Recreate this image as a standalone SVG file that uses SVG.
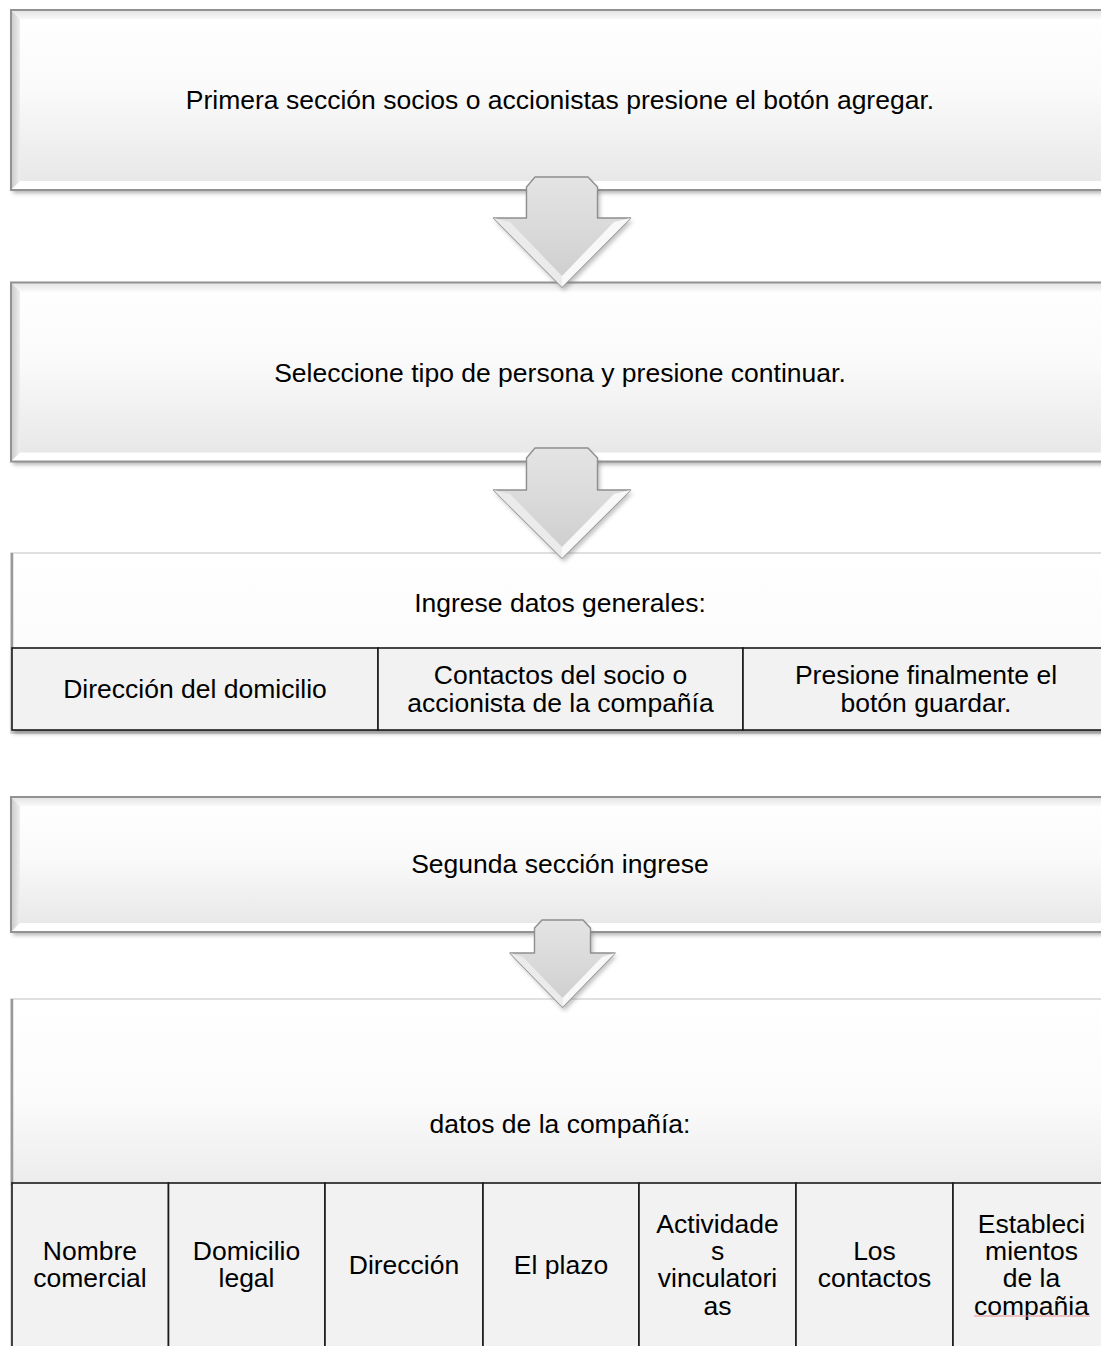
<svg xmlns="http://www.w3.org/2000/svg" width="1101" height="1346" viewBox="0 0 1101 1346">
  <defs>
    <linearGradient id="face" x1="0" y1="0" x2="0" y2="1">
      <stop offset="0" stop-color="#ffffff"/>
      <stop offset="0.45" stop-color="#fafafa"/>
      <stop offset="1" stop-color="#e6e6e6"/>
    </linearGradient>
    <linearGradient id="faceTall" x1="0" y1="0" x2="0" y2="1">
      <stop offset="0" stop-color="#ffffff"/>
      <stop offset="0.55" stop-color="#fbfbfb"/>
      <stop offset="1" stop-color="#ececec"/>
    </linearGradient>
    <linearGradient id="bevTop" x1="0" y1="0" x2="0" y2="1">
      <stop offset="0" stop-color="#e2e2e2"/>
      <stop offset="1" stop-color="#f9f9f9"/>
    </linearGradient>
    <linearGradient id="bevLeft" x1="0" y1="0" x2="1" y2="0">
      <stop offset="0" stop-color="#c9c9c9"/>
      <stop offset="1" stop-color="#efefef"/>
    </linearGradient>
    <linearGradient id="bevRight" x1="0" y1="0" x2="1" y2="0">
      <stop offset="0" stop-color="#f2f2f2"/>
      <stop offset="1" stop-color="#d0d0d0"/>
    </linearGradient>
    <linearGradient id="arrowFill" x1="0" y1="0" x2="0" y2="1">
      <stop offset="0" stop-color="#e4e4e4"/>
      <stop offset="0.5" stop-color="#d9d9d9"/>
      <stop offset="1" stop-color="#cdcdcd"/>
    </linearGradient>
    <filter id="blur" x="-5%" y="-20%" width="110%" height="140%">
      <feGaussianBlur stdDeviation="2.2"/>
    </filter>
    <filter id="blurA" x="-20%" y="-20%" width="140%" height="140%">
      <feGaussianBlur stdDeviation="2"/>
    </filter>
  </defs>
  <style>
    .t { font-family: "Liberation Sans", Arial, sans-serif; font-size: 26.5px; fill: #000; text-anchor: middle; }
    .shadow { fill: #6e6e6e; opacity: 0.55; filter: url(#blur); }
    .frame { fill: none; stroke: #929292; stroke-width: 2; }
    .frameSoft { fill: none; stroke: #d6d6d6; stroke-width: 1.5; }
    .edgeL { stroke: #9a9a9a; stroke-width: 2.5; }
    .bevTop { fill: url(#bevTop); }
    .bevLeft { fill: url(#bevLeft); }
    .bevRight { fill: url(#bevRight); }
    .bevBot { fill: #ffffff; }
    .cell { fill: #f2f2f2; stroke: #1a1a1a; stroke-width: 1.6; }
    .tblShadow { fill: #333; opacity: 0.55; filter: url(#blur); }
    .arrow { fill: url(#arrowFill); stroke: #8f8f8f; stroke-width: 1.4; stroke-linejoin: round; }
    .arrowShadow { fill: #777; opacity: 0.45; filter: url(#blurA); }
    .hiL { fill: #ebebeb; }
    .hiR { fill: #f8f8f8; }
    .spell { stroke: #e89090; stroke-width: 1.2; fill: none; }
  </style>

  <!-- Step 1 -->
  <g id="step1">
    <rect class="shadow" x="13" y="13" width="1100" height="180"/>
    <rect x="11" y="10" width="1100" height="180" fill="url(#face)"/>
    <polygon class="bevTop" points="11,10 1111,10 1102,19 20,19"/>
    <polygon class="bevLeft" points="11,10 20,19 20,181 11,190"/>
    <polygon class="bevBot" points="11,190 20,181 1102,181 1111,190"/>
    <rect class="frame" x="11" y="10" width="1100" height="180"/>
    <text class="t" x="560" y="108.5">Primera sección socios o accionistas presione el botón agregar.</text>
  </g>

  <!-- Step 2 -->
  <g id="step2">
    <rect class="shadow" x="13" y="285.5" width="1100" height="179"/>
    <rect x="11" y="282.5" width="1100" height="179" fill="url(#face)"/>
    <polygon class="bevTop" points="11,282.5 1111,282.5 1102,291.5 20,291.5"/>
    <polygon class="bevLeft" points="11,282.5 20,291.5 20,452.5 11,461.5"/>
    <polygon class="bevBot" points="11,461.5 20,452.5 1102,452.5 1111,461.5"/>
    <rect class="frame" x="11" y="282.5" width="1100" height="179"/>
    <text class="t" x="560" y="381.5">Seleccione tipo de persona y presione continuar.</text>
  </g>

  <!-- Step 3: general data with its table -->
  <g id="step3">
    <rect x="11" y="553" width="1100" height="180" fill="url(#faceTall)"/>
    <rect class="frameSoft" x="11" y="553" width="1100" height="180"/>
    <line class="edgeL" x1="12" y1="553" x2="12" y2="650"/>
    <text class="t" x="560" y="612">Ingrese datos generales:</text>
    <rect class="tblShadow" x="13" y="651" width="1100" height="82"/>
    <g id="step3-table">
      <rect class="cell" x="12" y="648" width="366" height="82"/>
      <rect class="cell" x="378" y="648" width="365" height="82"/>
      <rect class="cell" x="743" y="648" width="366" height="82"/>
      <text class="t" x="195" y="698">Dirección del domicilio</text>
      <text class="t" x="560.5" y="684">Contactos del socio o</text>
      <text class="t" x="560.5" y="712">accionista de la compañía</text>
      <text class="t" x="926" y="684">Presione finalmente el</text>
      <text class="t" x="926" y="712">botón guardar.</text>
    </g>
  </g>

  <!-- Step 4 -->
  <g id="step4">
    <rect class="shadow" x="13" y="800" width="1100" height="135"/>
    <rect x="11" y="797" width="1100" height="135" fill="url(#face)"/>
    <polygon class="bevTop" points="11,797 1111,797 1102,806 20,806"/>
    <polygon class="bevLeft" points="11,797 20,806 20,923 11,932"/>
    <polygon class="bevBot" points="11,932 20,923 1102,923 1111,932"/>
    <rect class="frame" x="11" y="797" width="1100" height="135"/>
    <text class="t" x="560" y="873">Segunda sección ingrese</text>
  </g>

  <!-- Step 5: company data with its table -->
  <g id="step5">
    <rect x="11" y="999" width="1100" height="360" fill="#ffffff"/>
    <rect x="11" y="999" width="1100" height="184" fill="url(#faceTall)"/>
    <rect class="frameSoft" x="11" y="999" width="1100" height="360"/>
    <line class="edgeL" x1="12" y1="999" x2="12" y2="1185"/>
    <text class="t" x="560" y="1133">datos de la compañía:</text>
    <g id="step5-table">
      <rect class="cell" x="12" y="1183" width="156.5" height="180"/>
      <rect class="cell" x="168.5" y="1183" width="156.5" height="180"/>
      <rect class="cell" x="325" y="1183" width="158" height="180"/>
      <rect class="cell" x="483" y="1183" width="156" height="180"/>
      <rect class="cell" x="639" y="1183" width="157" height="180"/>
      <rect class="cell" x="796" y="1183" width="157" height="180"/>
      <rect class="cell" x="953" y="1183" width="157" height="180"/>

      <text class="t" x="90" y="1259.8">Nombre</text>
      <text class="t" x="90" y="1287.2">comercial</text>

      <text class="t" x="246.5" y="1259.8">Domicilio</text>
      <text class="t" x="246.5" y="1287.2">legal</text>

      <text class="t" x="404" y="1273.5">Dirección</text>

      <text class="t" x="561" y="1273.5">El plazo</text>

      <text class="t" x="717.5" y="1232.5">Actividade</text>
      <text class="t" x="717.5" y="1259.8">s</text>
      <text class="t" x="717.5" y="1287.2">vinculatori</text>
      <text class="t" x="717.5" y="1314.5">as</text>

      <text class="t" x="874.5" y="1259.8">Los</text>
      <text class="t" x="874.5" y="1287.2">contactos</text>

      <text class="t" x="1031.5" y="1232.5">Estableci</text>
      <text class="t" x="1031.5" y="1259.8">mientos</text>
      <text class="t" x="1031.5" y="1287.2">de la</text>
      <text class="t" x="1031.5" y="1314.5">compañia</text>
      <line class="spell" x1="974" y1="1316" x2="1090" y2="1316"/>
    </g>
  </g>

  <!-- Down arrows between steps -->
  <g id="connectors">
    <g id="arrow1">
      <path class="arrowShadow" d="M538,180 L588,180 L600,192 L600,221 L633,221 L564,291 L495,221 L528,221 L528,192 Z"/>
      <path class="arrow" d="M535,177 L588,177 L597.5,187 L597.5,218 L630.5,218 L562,287 L493.5,218 L526.5,218 L526.5,187 Z"/>
      <polygon class="hiL" points="493.5,218 562,287 562,276 510,222"/>
      <polygon class="hiR" points="630.5,218 562,287 562,276 614,222"/>
    </g>
    <g id="arrow2">
      <path class="arrowShadow" d="M538,451 L588,451 L600,463 L600,493 L633,493 L564,562 L495,493 L528,493 L528,463 Z"/>
      <path class="arrow" d="M535,448 L588,448 L597.5,458 L597.5,490 L630.5,490 L562,558 L493.5,490 L526.5,490 L526.5,458 Z"/>
      <polygon class="hiL" points="493.5,490 562,558 562,547 510,494"/>
      <polygon class="hiR" points="630.5,490 562,558 562,547 614,494"/>
    </g>
    <g id="arrow3">
      <path class="arrowShadow" d="M544,923 L583,923 L593,933 L593,956 L617,956 L564.5,1011 L512,956 L537,956 L537,933 Z"/>
      <path class="arrow" d="M542,920 L583,920 L590.5,928 L590.5,953 L615,953 L562.5,1007 L510,953 L534.5,953 L534.5,928 Z"/>
      <polygon class="hiL" points="510,953 562.5,1007 562.5,998 523,957"/>
      <polygon class="hiR" points="615,953 562.5,1007 562.5,998 602,957"/>
    </g>
  </g>
</svg>
